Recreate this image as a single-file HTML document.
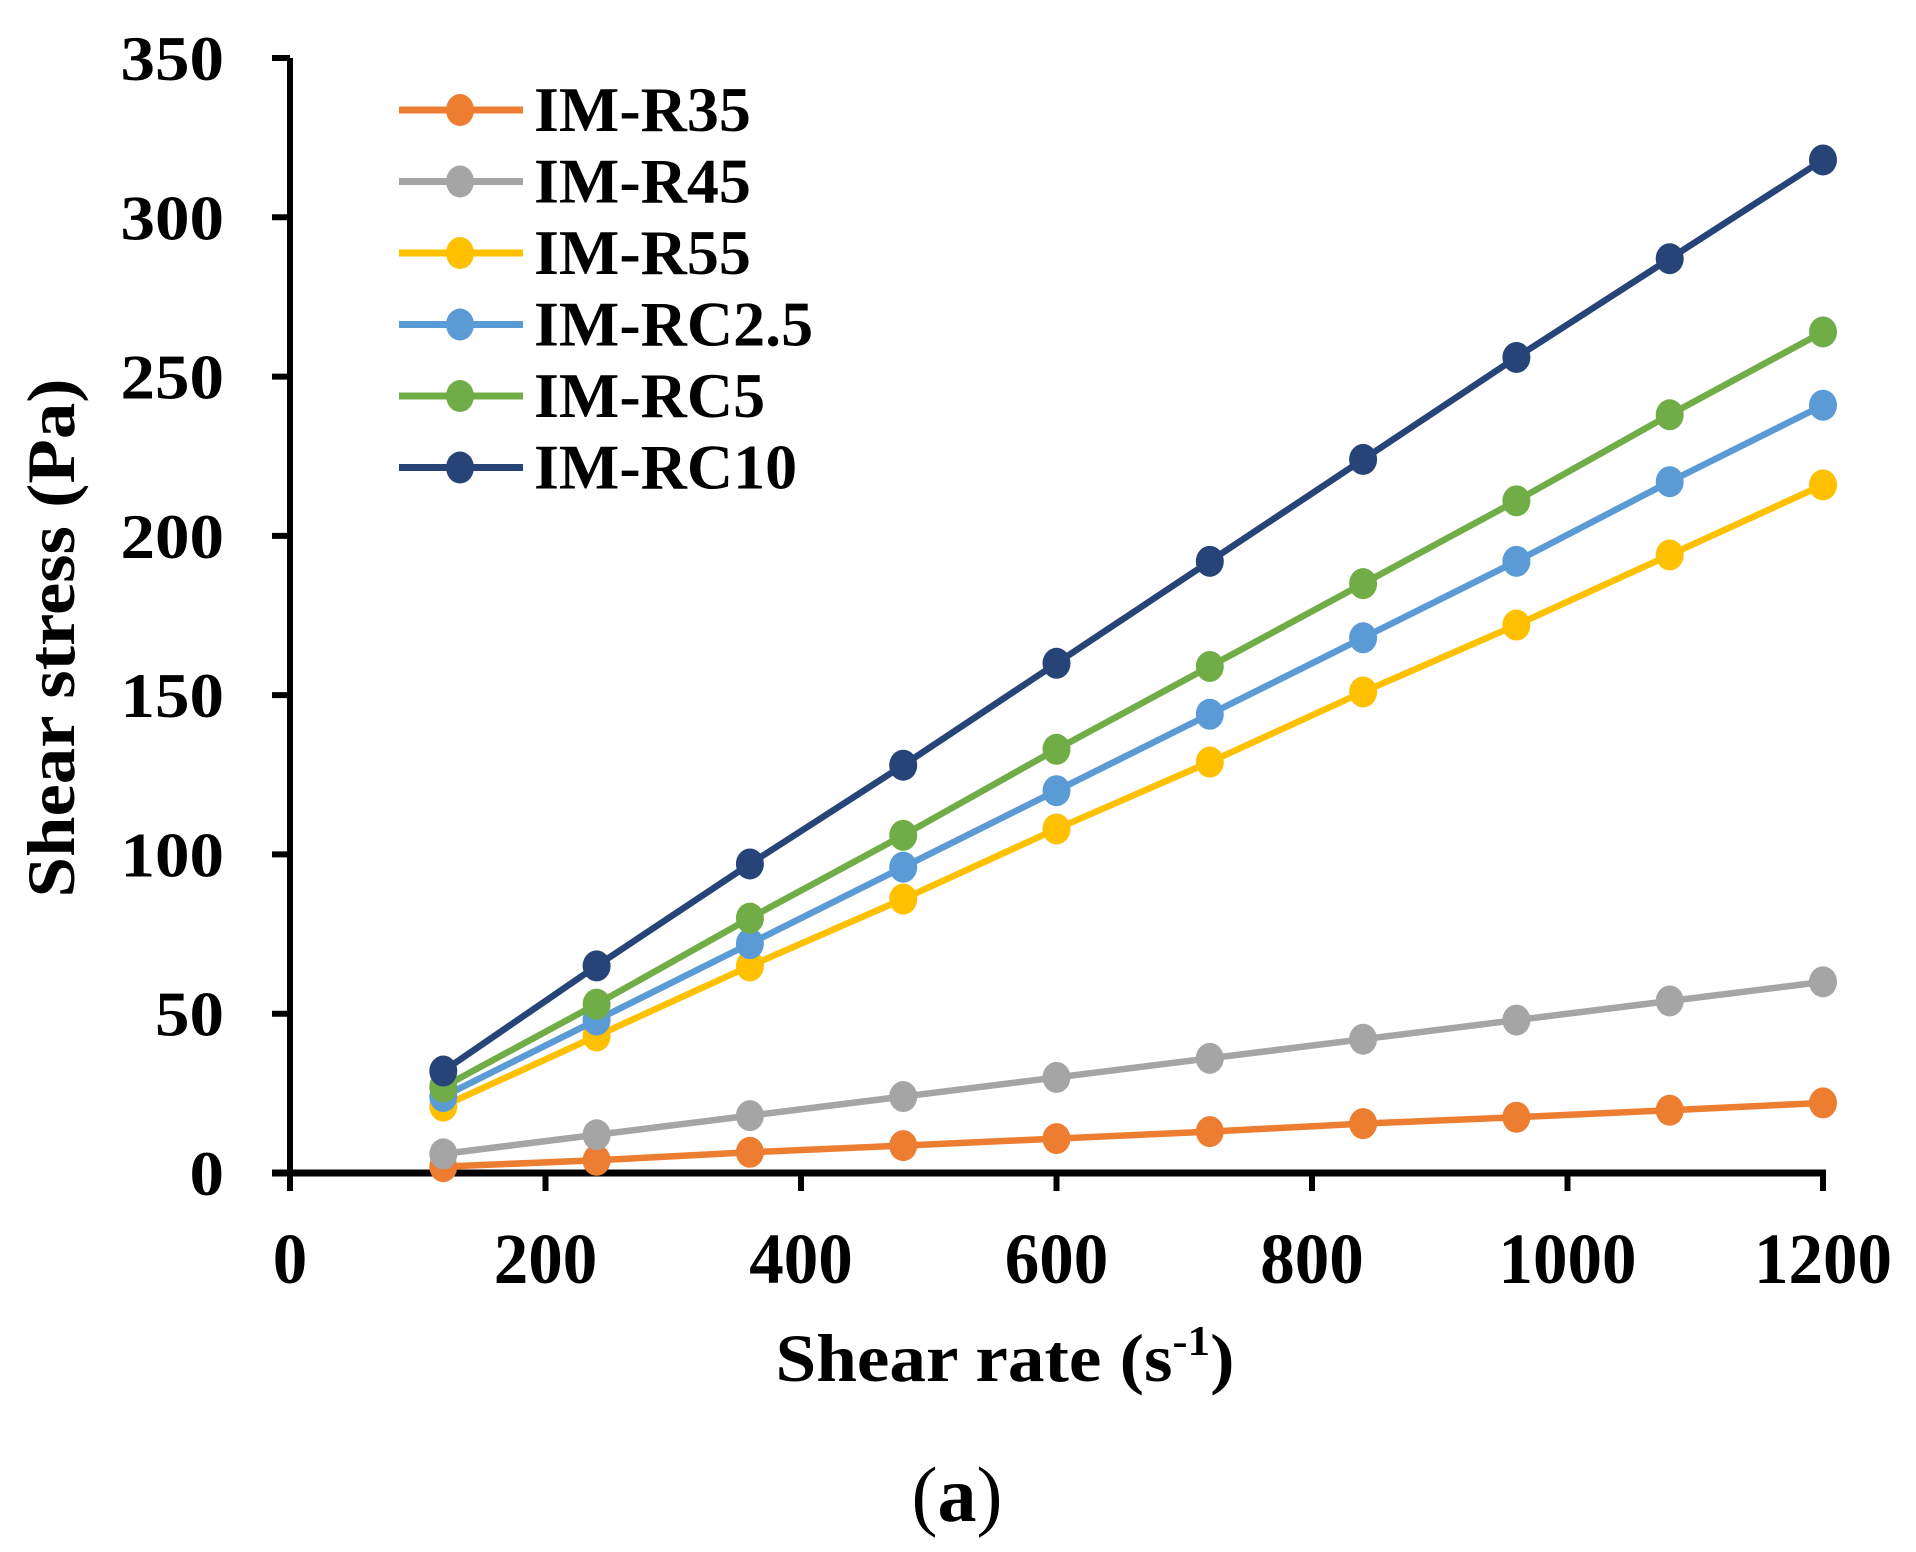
<!DOCTYPE html>
<html><head><meta charset="utf-8"><style>
html,body{margin:0;padding:0;background:#fff;}
svg{display:block;font-family:"Liberation Serif",serif;}
</style></head><body>
<svg id="chart" width="1916" height="1552" viewBox="0 0 1916 1552">
<g id="axes"></g><g id="series"></g><g id="legend"></g>
<text x="1005" y="1381" font-size="68" font-weight="bold" text-anchor="middle" textLength="459" lengthAdjust="spacingAndGlyphs">Shear rate (s<tspan dy="-26" font-size="42">-1</tspan><tspan dy="26">)</tspan></text>
<text transform="translate(74,638) rotate(-90)" font-size="68" font-weight="bold" text-anchor="middle" textLength="519" lengthAdjust="spacingAndGlyphs">Shear stress (Pa)</text>
<text x="957" y="1521" font-size="78" text-anchor="middle">(<tspan font-weight="bold">a</tspan>)</text>
</svg>
<script>
const xs = [120,240,360,480,600,720,840,960,1080,1200];
const names = ["IM-R35","IM-R45","IM-R55","IM-RC2.5","IM-RC5","IM-RC10"];
const r35 = [2,4,6.5,8.6,10.8,13,15.5,17.5,19.7,22];
const r45 = [6,12,18,24,30,36,42,48,54,60];
const r55 = [21,43,65,86,108,129,151,172,194,216];
const rc25 = [24,48,72,96,120,144,168,192,217,241];
const rc5 = [27,53,80,106,133,159,185,211,238,264];
const rc10 = [32,65,97,128,160,192,224,256,287,318];
const xTicks = [0,200,400,600,800,1000,1200];
const yTicks = [0,50,100,150,200,250,300,350];
const colors = ["#ED7D31","#A5A5A5","#FFC000","#5B9BD5","#70AD47","#264478"];
const allSeries = [r35,r45,r55,rc25,rc5,rc10];
const NS="http://www.w3.org/2000/svg";
const X0=290,X1=1823,Y0=1173,Y1=58;
const sx=v=>X0+(v-0)/(1200-0)*(X1-X0);
const sy=v=>Y0-(v-0)/(350-0)*(Y0-Y1);
function mk(t,a,p){const e=document.createElementNS(NS,t);for(const k in a)e.setAttribute(k,a[k]);p.appendChild(e);return e;}
const axes=document.getElementById('axes');
const ya=mk('line',{x1:X0,y1:Y1,x2:X0,y2:Y0+18,stroke:'#000','stroke-width':6},axes);


const xa=mk('line',{x1:X0-18,y1:Y0,x2:X1+3,y2:Y0,stroke:'#000','stroke-width':7},axes);


yTicks.forEach(v=>{
 const t=mk('line',{x1:X0-18,y1:sy(v),x2:X0,y2:sy(v),stroke:'#000','stroke-width':6},axes);
 
 
 const s=String(v);
 const l=mk('text',{x:224,y:sy(v)+22,'font-size':64,'font-weight':'bold','text-anchor':'end',textLength:s.length*34.5,lengthAdjust:'spacingAndGlyphs'},axes);
 l.textContent=s;
 
 
});
xTicks.forEach(v=>{
 const t=mk('line',{x1:sx(v),y1:Y0,x2:sx(v),y2:Y0+18,stroke:'#000','stroke-width':6},axes);
 
 
 const s=String(v);
 const l=mk('text',{x:sx(v),y:1283,'font-size':72,'font-weight':'bold','text-anchor':'middle',textLength:s.length*34.5,lengthAdjust:'spacingAndGlyphs'},axes);
 l.textContent=s;
 
 
});
const sg=document.getElementById('series');
allSeries.forEach((s,i)=>{
 const g=mk('g',{},sg);
 
 
 const pl=mk('polyline',{points:s.map((v,j)=>sx(xs[j])+','+sy(v)).join(' '),fill:'none',stroke:colors[i],'stroke-width':6.5},g);
 
 
 s.forEach((v,j)=>{
  const c=mk('ellipse',{cx:sx(xs[j]),cy:sy(v),rx:14,ry:15.5,fill:colors[i]},g);
  
  
 });
});
const lg=document.getElementById('legend');
names.forEach((n,i)=>{
 const y=110+i*71.5;
 const g=mk('g',{},lg);
 
 
 mk('line',{x1:399,y1:y,x2:523,y2:y,stroke:colors[i],'stroke-width':7},g);
 mk('ellipse',{cx:460,cy:y,rx:14,ry:16,fill:colors[i]},g);
 const t=mk('text',{x:534,y:y+21,'font-size':64,'font-weight':'bold'},g);
 t.textContent=n;
});
</script>
</body></html>
